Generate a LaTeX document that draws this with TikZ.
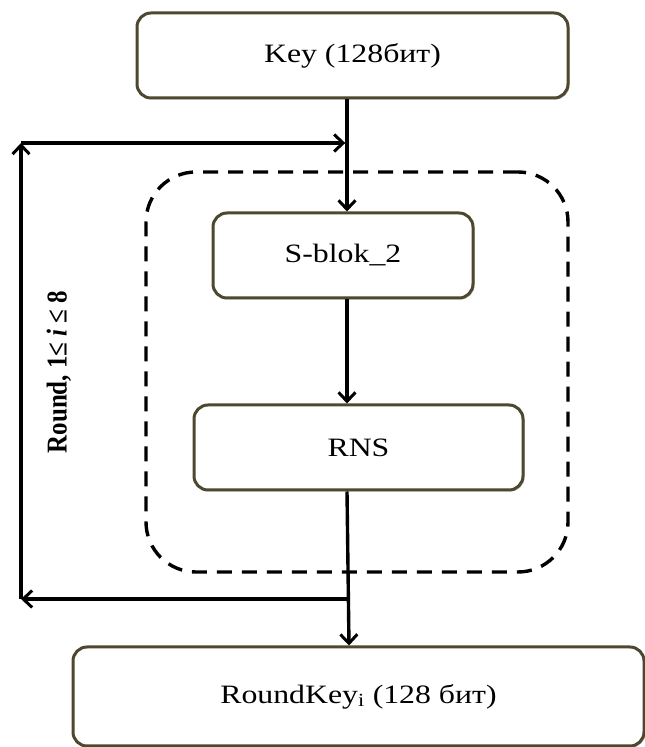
\documentclass[tikz,border=0pt]{standalone}
\usepackage{graphicx}
\usepackage{fontspec}
\setmainfont{Liberation Serif}[FakeStretch=1.2]
\newfontfamily\sidefont{Liberation Serif}
\usetikzlibrary{arrows.meta,shadows}

\definecolor{boxline}{RGB}{78,72,46}

\begin{document}
\begin{tikzpicture}[x=1pt,y=1pt,
  block/.style={draw=boxline, line width=3pt, rounded corners=14pt, fill=white,
    drop shadow={shadow xshift=1.5pt, shadow yshift=-1.5pt, opacity=0.25, fill=black},
    inner sep=0pt, font=\fontsize{26.5}{30}\selectfont},
  flow/.style={line width=3.4pt, -{Straight Barb[length=9pt,width=17pt,line width=3pt]}},
  loopframe/.style={draw=black, line width=3.4pt, dash pattern=on 15pt off 10pt,
    rounded corners=50pt, inner sep=0pt}]
\useasboundingbox (0,0) rectangle (645,747);

% dashed frame around the round function
\node[loopframe, minimum width=422pt, minimum height=400pt] (loop) at (357,375) {};

% blocks
\node[block, minimum width=431pt, minimum height=85pt] (key) at (352.5,691.5) {Key (128бит)};
\node[block, minimum width=260pt, minimum height=85pt] (sblok) at (343,491.5) {S-blok\_2};
\node[block, minimum width=329pt, minimum height=85pt] (rns) at (358.5,299.5) {RNS};
\node[block, minimum width=571pt, minimum height=99pt] (rkey) at (358.5,50.5) {RoundKey\textsubscript{i} (128 бит)};

% helper coordinates for the data path and the feedback loop
\coordinate (mx) at (347,0);
\coordinate (mx2) at (349,0);
\coordinate (fbtl) at (21,604);
\coordinate (fbbl) at (21,148);
\coordinate (fbbr) at (347,148);

% data path
\draw[flow] (key.south -| mx) -- (sblok.north -| mx);
\draw[flow] (sblok.south -| mx) -- (rns.north -| mx);
\draw[flow] (rns.south -| mx) -- (rkey.north -| mx2);

% feedback loop
\draw[flow] (fbbr) -- (fbbl);
\draw[flow] (fbbl) -- (fbtl);
\draw[flow, shorten >=1.7pt] (fbtl) -- (fbtl -| mx);

% loop label
\node[rotate=90, font=\sidefont\bfseries\fontsize{25}{30}\selectfont] (roundlbl) at (59,375)
  {\scalebox{1}[1.15]{Round, 1≤ \textit{i} ≤ 8}};
\end{tikzpicture}
\end{document}
